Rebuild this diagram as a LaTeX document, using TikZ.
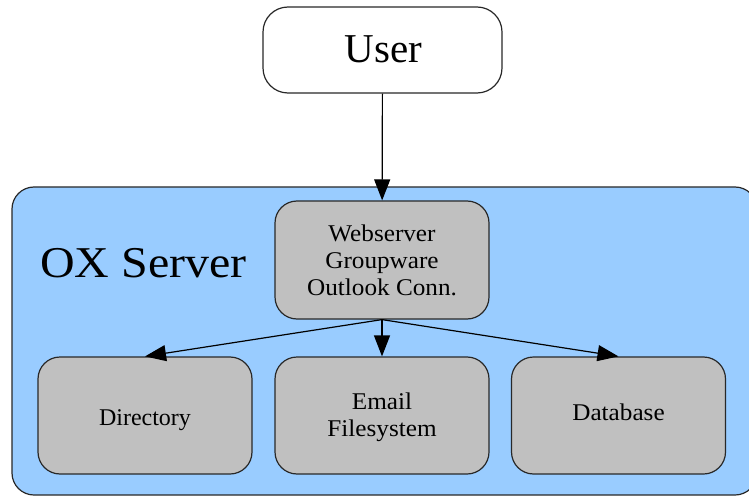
\documentclass[tikz,border=0pt]{standalone}
\usepackage{fontspec}
\setmainfont{Liberation Serif}
\usetikzlibrary{arrows.meta}
\definecolor{oxblue}{RGB}{153,204,255}
\definecolor{boxgray}{RGB}{192,192,192}
\definecolor{edgegray}{RGB}{40,40,40}
\newcommand{\widetxt}[1]{\scalebox{1.05}[1]{#1}}
\newcommand{\shiftdown}[2]{\raisebox{#1}[\height][\depth]{#2}}
\begin{document}
\begin{tikzpicture}[x=1pt,y=-1pt,
  frame/.style={draw=edgegray, line width=1.2pt},
  comp/.style={frame, rounded corners=22pt, fill=boxgray, minimum width=214pt,
    minimum height=117pt, inner sep=0pt, align=center,
    font=\fontsize{24}{27}\selectfont},
  conn/.style={draw=black, line width=1.2pt, -{Triangle[length=21pt,width=16pt]}}]
\useasboundingbox (0,0) rectangle (749,497);
\node[frame, rounded corners=22pt, fill=oxblue, minimum width=745pt,
  minimum height=308pt, inner sep=0pt] (ox) at (384.5,341) {};
\node[anchor=base west, inner sep=0pt, font=\fontsize{44}{48}\selectfont] (oxlabel) at (40,277) {\scalebox{1.09}[1]{OX Server}};
\node[frame, rounded corners=25pt, fill=white, minimum width=239pt,
  minimum height=86pt, inner sep=0pt] (user) at (382.5,50) {};
\node[anchor=base, inner sep=0pt, font=\fontsize{41}{45}\selectfont] (usertext) at (383.5,63) {User};
\node[comp, minimum height=118pt] (web) at (382,260) {\widetxt{Webserver}\\\widetxt{Groupware}\\\widetxt{Outlook Conn.}};
\node[comp] (dir) at (145,415.5) {\shiftdown{-5pt}{Directory}};
\node[comp] (mail) at (382,415.5) {\shiftdown{-2pt}{\widetxt{Email}}\\\shiftdown{-2pt}{\widetxt{Filesystem}}};
\node[comp] (db) at (618.5,415.5) {\shiftdown{3pt}{\widetxt{Database}}};
\draw[conn] (user) -- (web);
\draw[conn] (web.south) -- (dir.north);
\draw[conn] (web.south) -- (mail.north);
\draw[conn] (web.south) -- (db.north);
\end{tikzpicture}
\end{document}
